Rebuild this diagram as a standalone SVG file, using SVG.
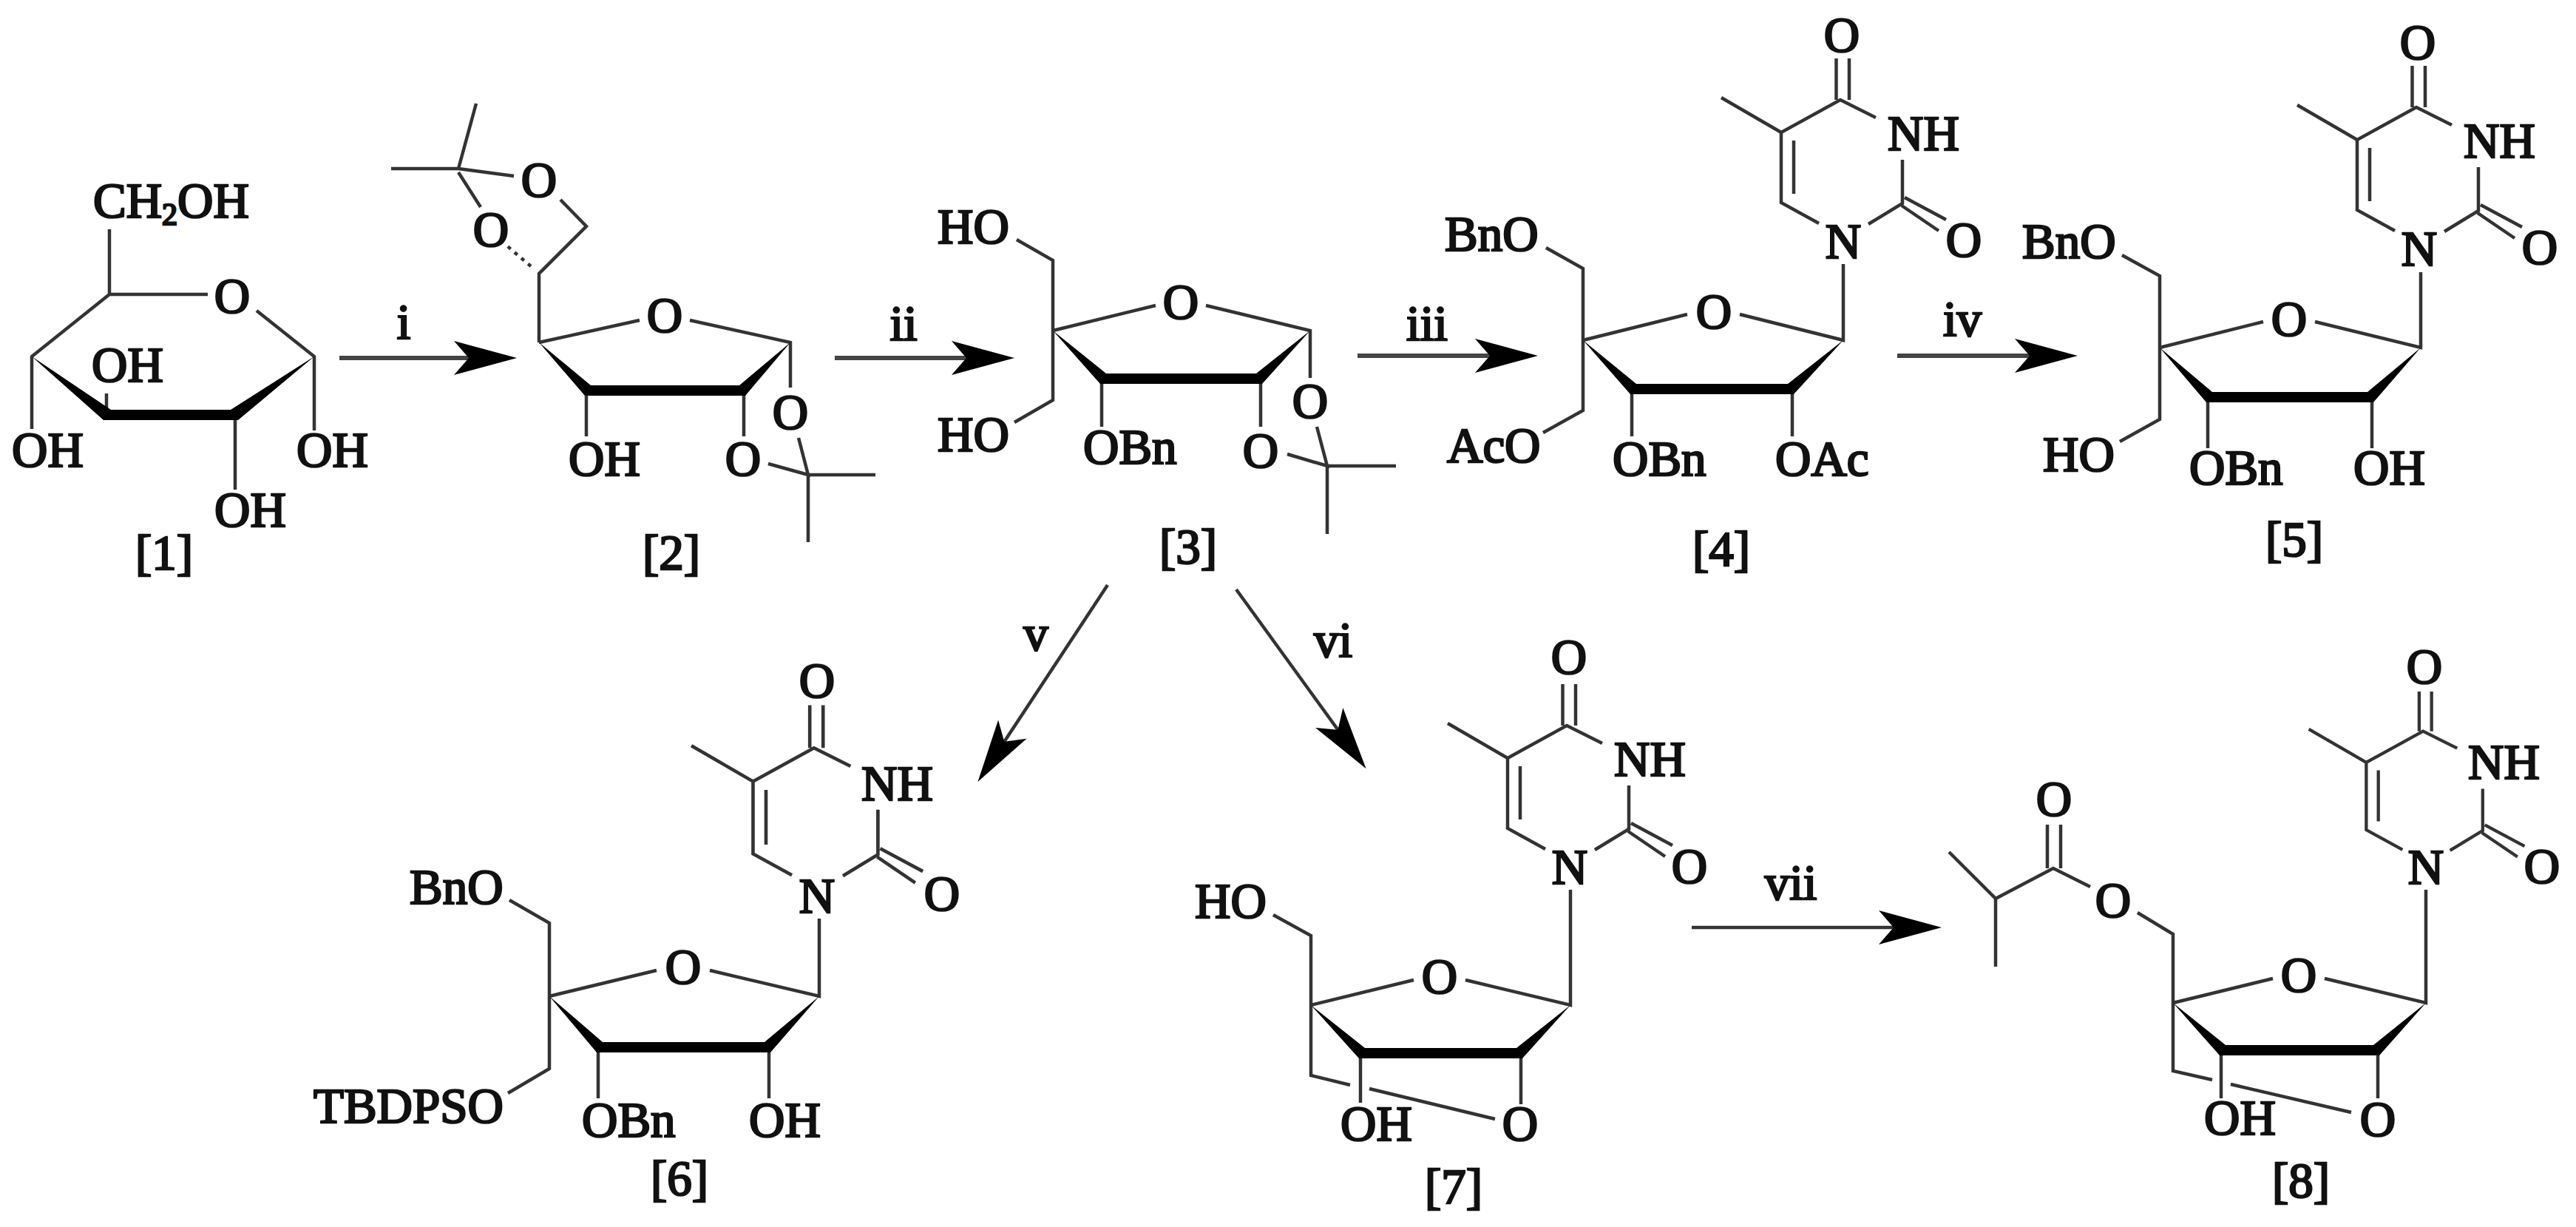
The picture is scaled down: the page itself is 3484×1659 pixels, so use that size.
<svg xmlns="http://www.w3.org/2000/svg" width="3484" height="1659" viewBox="0 0 3484 1659">
<style>
text{font-family:"Liberation Serif","Times New Roman",serif;font-size:67px;fill:#111;stroke:#111;stroke-width:2.6}
.m{text-anchor:middle}
.sub{font-size:42px}
.b{fill:none;stroke:#333;stroke-width:4.5;stroke-linecap:butt;stroke-linejoin:miter}
.w{fill:#000;stroke:none}
.a{fill:none;stroke:#444;stroke-width:6}
.t{fill:none;stroke:#333;stroke-width:4.5}
</style>
<defs>
<marker id="head" markerUnits="userSpaceOnUse" markerWidth="120" markerHeight="60" refX="55" refY="30" orient="auto" overflow="visible">
<path d="M0,7 L85,30 L0,53 L20,30 Z" fill="#000"/>
</marker>
<path id="thy" class="b" d="M-33,-24 L-84,-52 L-84,-147 L-4,-191 L44,-167 M80,-110 L80,-51 L34,-23 M-67,-136 L-67,-64 M-84,-147 L-165,-194 M-9.5,-191 L-9.5,-247 M8,-191 L8,-247 M83,-59 L139,-29 M79,-48 L129,-14"/>
</defs>
<g id="connectors">
<path class="a" d="M459,484 H669" marker-end="url(#head)"/>
<path class="a" d="M1129,484 H1342" marker-end="url(#head)"/>
<path class="a" d="M1836,481 H2050" marker-end="url(#head)"/>
<path class="a" d="M2566,481 H2780" marker-end="url(#head)"/>
<path class="t" d="M1498,791 L1339,1032" marker-end="url(#head)"/>
<path class="t" d="M1672,797 L1830,1015" marker-end="url(#head)"/>
<path class="t" d="M2288,1254 H2596" marker-end="url(#head)"/>
<text class="m" x="546" y="458">i</text>
<text class="m" x="1222" y="460">ii</text>
<text class="m" x="1930" y="460">iii</text>
<text class="m" x="2654" y="454">iv</text>
<text class="m" x="1401" y="879">v</text>
<text class="m" x="1803" y="888">vi</text>
<text class="m" x="2422" y="1216">vii</text>
</g>
<g id="node-1">
<path class="b" d="M148,310 V398 H281 M347,420 L425,482 V582 M148,398 L43,482 V580 M144,561 V532 M318,561 V662"/>
<polygon class="w" points="43,482 150,554 312,554 425,482 322,568 140,568"/>
<text x="126" y="294">CH<tspan class="sub" dy="10">2</tspan><tspan dy="-10">OH</tspan></text>
<text class="m" x="314" y="423">O</text>
<text x="124" y="516">OH</text>
<text x="16" y="631">OH</text>
<text x="401" y="631">OH</text>
<text x="290" y="712">OH</text>
<text class="m" x="222" y="770">[1]</text>
</g>
<g id="node-2">
<path class="b" d="M729,463 V370 L793,306 L758,270 M695,238 L620,228 L529,228 M620,228 L644,140 M620,233 L650,280 M729,463 L865,433 M933,433 L1069,463 V524 M793,528 V590 M1006,528 V590 M1080,592 L1093,642 L1039,627 M1093,642 H1184 M1093,642 V733"/>
<path class="b" stroke-dasharray="5 7" d="M718,360 L684,331"/>
<polygon class="w" points="729,463 799,521 1000,521 1069,463 1008,535 791,535"/>
<text class="m" x="729" y="266">O</text>
<text class="m" x="664" y="333">O</text>
<text class="m" x="899" y="449">O</text>
<text x="769" y="643">OH</text>
<text class="m" x="1005" y="643">O</text>
<text class="m" x="1069" y="580">O</text>
<text class="m" x="908" y="770">[2]</text>
</g>
<g id="node-3">
<path class="b" d="M1375,324 L1424,352 V541 L1372,571 M1424,447 L1563,413 M1631,413 L1772,447 V511 M1490,512 V577 M1705,512 V577 M1781,577 L1795,630 L1741,614 M1795,630 H1888 M1795,630 V722"/>
<polygon class="w" points="1424,447 1496,505 1699,505 1772,447 1707,519 1488,519"/>
<text x="1268" y="329">HO</text>
<text x="1268" y="610">HO</text>
<text class="m" x="1597" y="431">O</text>
<text x="1465" y="627">OBn</text>
<text class="m" x="1705" y="632">O</text>
<text class="m" x="1772" y="565">O</text>
<text class="m" x="1607" y="762">[3]</text>
</g>
<g id="node-4">
<path class="b" d="M2091,335 L2141,363 V555 L2087,585 M2141,460 L2282,425 M2353,425 L2493,460 V357 M2207,526 V590 M2424,526 V590"/>
<polygon class="w" points="2141,460 2213,519 2418,519 2493,460 2426,533 2205,533"/>
<use href="#thy" x="2493" y="326"/>
<text x="1954" y="339">BnO</text>
<text x="1957" y="625">AcO</text>
<text class="m" x="2318" y="444">O</text>
<text x="2181" y="643">OBn</text>
<text x="2401" y="643">OAc</text>
<text class="m" x="2493" y="349">N</text>
<text class="m" x="2491" y="70">O</text>
<text x="2553" y="203">NH</text>
<text class="m" x="2656" y="347">O</text>
<text class="m" x="2328" y="765">[4]</text>
</g>
<g id="node-5">
<path class="b" d="M2870,345 L2921,373 V567 L2867,597 M2921,470 L3061,435 M3131,435 L3274,470 V368 M2986,537 V606 M3208,537 V606"/>
<polygon class="w" points="2921,470 2992,530 3202,530 3274,470 3210,544 2984,544"/>
<use href="#thy" x="3272" y="336"/>
<text x="2735" y="349">BnO</text>
<text x="2763" y="637">HO</text>
<text class="m" x="3096" y="454">O</text>
<text x="2961" y="655">OBn</text>
<text x="3183" y="655">OH</text>
<text class="m" x="3272" y="359">N</text>
<text class="m" x="3270" y="80">O</text>
<text x="3332" y="213">NH</text>
<text class="m" x="3435" y="357">O</text>
<text class="m" x="3103" y="752">[5]</text>
</g>
<g id="node-6">
<path class="b" d="M689,1217 L743,1248 V1445 L687,1478 M743,1347 L888,1312 M960,1312 L1108,1347 V1242 M809,1416 V1485 M1040,1416 V1485"/>
<polygon class="w" points="743,1347 815,1409 1034,1409 1108,1347 1042,1423 807,1423"/>
<use href="#thy" transform="translate(1105 1208) scale(1.03)"/>
<text x="554" y="1222">BnO</text>
<text x="424" y="1518">TBDPSO</text>
<text class="m" x="924" y="1330">O</text>
<text x="787" y="1537">OBn</text>
<text x="1013" y="1537">OH</text>
<text class="m" x="1105" y="1234">N</text>
<text class="m" x="1105" y="943">O</text>
<text x="1165" y="1082">NH</text>
<text class="m" x="1274" y="1231">O</text>
<text class="m" x="919" y="1616">[6]</text>
</g>
<g id="node-7">
<path class="b" d="M1722,1237 L1773,1265 V1454 L1826,1467 M1852,1472 L2022,1513 M1773,1359 L1912,1325 M1982,1325 L2124,1359 V1203 M1840,1424 V1491 M2057,1424 V1493"/>
<polygon class="w" points="1773,1359 1846,1417 2051,1417 2124,1359 2059,1431 1838,1431"/>
<use href="#thy" x="2123" y="1172"/>
<text x="1616" y="1241">HO</text>
<text class="m" x="1947" y="1343">O</text>
<text x="1813" y="1542">OH</text>
<text class="m" x="2056" y="1542">O</text>
<text class="m" x="2123" y="1195">N</text>
<text class="m" x="2122" y="911">O</text>
<text x="2183" y="1049">NH</text>
<text class="m" x="2285" y="1194">O</text>
<text class="m" x="1966" y="1627">[7]</text>
</g>
<g id="node-8">
<path class="b" d="M2636,1152 L2699,1215 V1307 M2699,1215 L2777,1174 L2827,1199 M2769,1174 V1115 M2787,1174 V1115 M2891,1234 L2939,1263 V1448 L2992,1460 M3017,1466 L3180,1504 M2939,1356 L3074,1323 M3144,1323 L3281,1356 V1203 M3004,1420 V1485 M3216,1420 V1485"/>
<polygon class="w" points="2939,1356 3010,1413 3210,1413 3281,1356 3218,1427 3002,1427"/>
<use href="#thy" transform="translate(3281 1172) scale(.96)"/>
<text class="m" x="2778" y="1103">O</text>
<text class="m" x="2858" y="1240">O</text>
<text class="m" x="3109" y="1341">O</text>
<text x="2981" y="1534">OH</text>
<text class="m" x="3216" y="1536">O</text>
<text class="m" x="3281" y="1195">N</text>
<text class="m" x="3279" y="924">O</text>
<text x="3338" y="1053">NH</text>
<text class="m" x="3438" y="1194">O</text>
<text class="m" x="3112" y="1619">[8]</text>
</g>
</svg>
